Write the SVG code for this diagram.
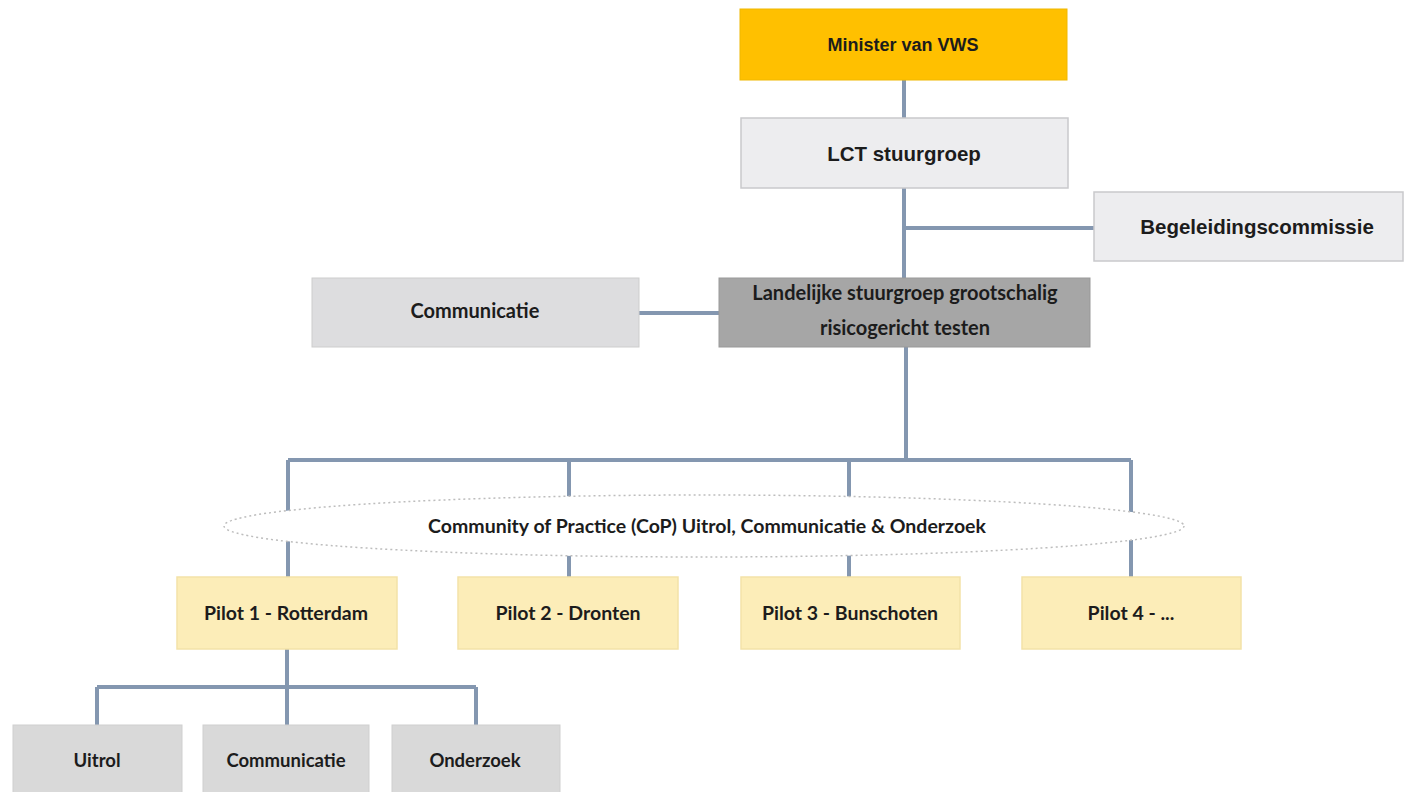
<svg xmlns="http://www.w3.org/2000/svg" width="1404" height="792" viewBox="0 0 1404 792">
<style>
.arial{font-family:"Liberation Sans",Arial,sans-serif;font-weight:bold;fill:#1c1c1c}
.cal{font-family:Lato,"Open Sans",sans-serif;font-weight:bold;fill:#1c1c1c}
.con{stroke:#8497B0;stroke-width:4;fill:none}
.lg{fill:#EDEDEF;stroke:#C9C9CC;stroke-width:1.5}
.pl{fill:#FCEDB8;stroke:#F3E2A8;stroke-width:1.5}
.gr{fill:#D9D9D9;stroke:#CFCFCF;stroke-width:1}
</style>
<rect width="1404" height="792" fill="#ffffff"/>
<g id="connectors">
<path class="con" d="M904 80V118M904 188V278M904 228H1094M639 313H720M906 347V460M288 460H1131M288 460V577M569 460V577M849 460V577M1131 460V577M287 649V687M97 687H476M97 687V725M287 687V725M476 687V725"/>
</g>
<g id="cop">
<ellipse cx="704" cy="526" rx="480" ry="31" fill="#ffffff" stroke="#BDBDBD" stroke-width="1.5" stroke-dasharray="2 3"/>
<text class="cal" x="707" y="533" font-size="19.5" text-anchor="middle">Community of Practice (CoP) Uitrol, Communicatie &amp; Onderzoek</text>
</g>
<g id="minister">
<rect x="740" y="9" width="327" height="71" fill="#FFC000" stroke="#F0B800" stroke-width="1"/>
<text class="arial" x="903" y="51" font-size="18" text-anchor="middle">Minister van VWS</text>
</g>
<g id="lct">
<rect class="lg" x="741" y="118" width="327" height="70"/>
<text class="arial" x="904" y="161" font-size="20.5" text-anchor="middle">LCT stuurgroep</text>
</g>
<g id="begeleiding">
<rect class="lg" x="1094" y="192" width="309" height="69"/>
<text class="arial" x="1257" y="234" font-size="20.5" text-anchor="middle">Begeleidingscommissie</text>
</g>
<g id="communicatie">
<rect x="312" y="278" width="327" height="69" fill="#DDDDDF" stroke="#CDCDCD" stroke-width="1"/>
<text class="cal" x="475" y="318" font-size="20" text-anchor="middle">Communicatie</text>
</g>
<g id="landelijke">
<rect x="719" y="278" width="371" height="69" fill="#A6A6A6" stroke="#999999" stroke-width="1"/>
<text class="cal" x="905" y="300" font-size="20" text-anchor="middle">Landelijke stuurgroep grootschalig</text>
<text class="cal" x="905" y="335" font-size="20" text-anchor="middle">risicogericht testen</text>
</g>
<g id="pilot1">
<rect class="pl" x="177" y="577" width="220" height="72"/>
<text class="cal" x="286" y="620" font-size="19.5" text-anchor="middle">Pilot 1 - Rotterdam</text>
</g>
<g id="pilot2">
<rect class="pl" x="458" y="577" width="220" height="72"/>
<text class="cal" x="568" y="620" font-size="19.5" text-anchor="middle">Pilot 2 - Dronten</text>
</g>
<g id="pilot3">
<rect class="pl" x="741" y="577" width="219" height="72"/>
<text class="cal" x="850" y="620" font-size="19.5" text-anchor="middle">Pilot 3 - Bunschoten</text>
</g>
<g id="pilot4">
<rect class="pl" x="1022" y="577" width="219" height="72"/>
<text class="cal" x="1131" y="620" font-size="19.5" text-anchor="middle">Pilot 4 - ...</text>
</g>
<g id="uitrol">
<rect class="gr" x="13" y="725" width="169" height="72"/>
<text class="cal" x="97" y="767" font-size="18.5" text-anchor="middle">Uitrol</text>
</g>
<g id="communicatie2">
<rect class="gr" x="203" y="725" width="166" height="72"/>
<text class="cal" x="286" y="767" font-size="18.5" text-anchor="middle">Communicatie</text>
</g>
<g id="onderzoek">
<rect class="gr" x="392" y="725" width="168" height="72"/>
<text class="cal" x="475" y="767" font-size="18.5" text-anchor="middle">Onderzoek</text>
</g>
</svg>
